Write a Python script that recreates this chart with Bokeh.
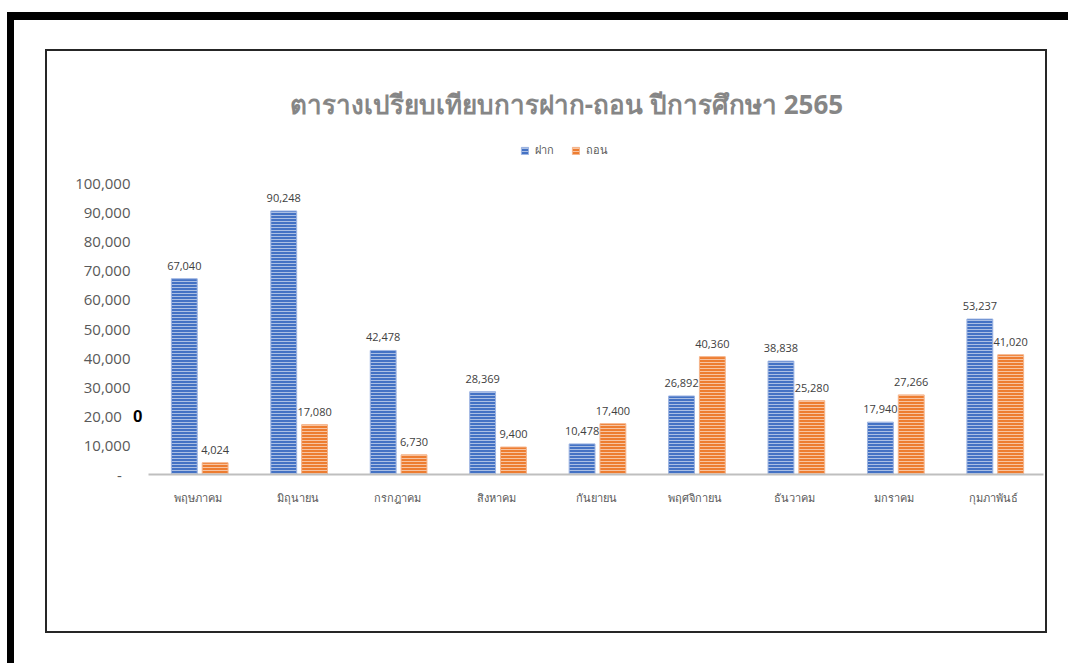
from bokeh.plotting import figure
from bokeh.models import (ColumnDataSource, FactorRange, Range1d, FixedTicker, LabelSet, Label,
                          Legend, LegendItem, LinearAxis)
from bokeh.transform import dodge
from bokeh.core.properties import value
from bokeh.embed import file_html
from bokeh.resources import INLINE

# ---------------- data ----------------
title_text = "ตารางเปรียบเทียบการฝาก-ถอน ปีการศึกษา 2565"
months = ["พฤษภาคม", "มิถุนายน", "กรกฎาคม", "สิงหาคม", "กันยายน",
          "พฤศจิกายน", "ธันวาคม", "มกราคม", "กุมภาพันธ์"]
series_names = ["ฝาก", "ถอน"]
deposits = [67040, 90248, 42478, 28369, 10478, 26892, 38838, 17940, 53237]
withdrawals = [4024, 17080, 6730, 9400, 17400, 40360, 25280, 27266, 41020]
y_ticks = [0, 10000, 20000, 30000, 40000, 50000, 60000, 70000, 80000, 90000, 100000]
y_tick_labels = ["-\u2007", "10,000", "20,00\u2007", "30,000", "40,000", "50,000",
                 "60,000", "70,000", "80,000", "90,000", "100,000"]
stray_tick = [20000]
stray_label = ["0"]

BLUE = "#4472C4"
ORANGE = "#ED7D31"
THAI_FONT = "Noto Sans"
NUM_FONT = "Open Sans"

src = ColumnDataSource(dict(
    month=months,
    dep=deposits,
    wd=withdrawals,
    dep_label=[f"{v:,}" for v in deposits],
    wd_label=[f"{v:,}" for v in withdrawals],
))

W, H = 1068, 663
# value axis: 0 at y=474px, 100,000 at y=182px; the frame extends up to the chart-area
# border (y=51px) so that the title and legend can live inside it without clipping
Y_TOP = 100000 * (474 - 51) / (474 - 182)
p = figure(x_range=FactorRange(*months), y_range=Range1d(0, Y_TOP),
           width=W, height=H, output_backend="svg", toolbar_location=None,
           min_border_left=148, min_border_right=25, min_border_top=51, min_border_bottom=189)
p.title.visible = False
p.outline_line_color = None
p.xgrid.grid_line_color = None
p.ygrid.grid_line_color = None
p.background_fill_color = "white"
p.border_fill_color = None

# page decoration (thick black edge + thin chart-area frame) painted behind the canvas
frame_css = ", ".join([
    "linear-gradient(#000,#000) 7px 12px / 1061px 8px no-repeat",
    "linear-gradient(#000,#000) 7px 12px / 7px 651px no-repeat",
    "linear-gradient(#262626,#262626) 45px 49px / 1002px 2px no-repeat",
    "linear-gradient(#262626,#262626) 45px 631px / 1002px 2px no-repeat",
    "linear-gradient(#262626,#262626) 45px 49px / 2px 584px no-repeat",
    "linear-gradient(#262626,#262626) 1045px 49px / 2px 584px no-repeat",
    "#ffffff",
])
p.styles = {"background": frame_css}

common = dict(source=src, hatch_pattern="horizontal_line", hatch_color="white",
              hatch_alpha=0.55, hatch_scale=3, hatch_weight=1, line_width=1)
b1 = p.vbar(x=dodge("month", -0.14, range=p.x_range), top="dep", width=0.26,
            fill_color=BLUE, line_color="#9db4e2", **common)
b2 = p.vbar(x=dodge("month", 0.17, range=p.x_range), top="wd", width=0.26,
            fill_color=ORANGE, line_color="#f5b48a", **common)

lab_style = dict(text_align="center", text_baseline="bottom", y_offset=9,
                 text_font_size="11px", text_color="#404040", text_font=value(NUM_FONT))
p.add_layout(LabelSet(x=dodge("month", -0.14, range=p.x_range), y="dep", text="dep_label",
                      source=src, **lab_style))
p.add_layout(LabelSet(x=dodge("month", 0.17, range=p.x_range), y="wd", text="wd_label",
                      source=src, **lab_style))

# axes
p.xaxis.axis_line_color = "#bfbfbf"
p.xaxis.axis_line_width = 2
p.xaxis.major_tick_line_color = None
p.xaxis.minor_tick_line_color = None
p.xaxis.major_label_text_font = THAI_FONT
p.xaxis.major_label_text_font_size = "11px"
p.xaxis.major_label_text_color = "#595959"
p.xaxis.major_label_standoff = 9

yaxis = p.yaxis[0]
yaxis.ticker = FixedTicker(ticks=y_ticks)
yaxis.major_label_overrides = {t: l for t, l in zip(y_ticks, y_tick_labels)}
yaxis.axis_line_color = None
yaxis.major_tick_line_color = None
yaxis.minor_tick_line_color = None
yaxis.major_tick_out = 0
yaxis.minor_tick_out = 0
yaxis.major_label_text_font = NUM_FONT
yaxis.major_label_text_font_size = "15px"
yaxis.major_label_text_color = "#595959"
yaxis.major_label_standoff = 0

# the stray bold "0" that sits right of the 20,000 label (closest to the frame)
stray_axis = LinearAxis(ticker=FixedTicker(ticks=stray_tick),
                        major_label_overrides={t: l for t, l in zip(stray_tick, stray_label)},
                        axis_line_color=None, major_tick_line_color=None,
                        minor_tick_line_color=None, major_tick_out=0, minor_tick_out=0,
                        major_label_standoff=6,
                        major_label_text_font="Liberation Sans",
                        major_label_text_font_style="bold",
                        major_label_text_font_size="17px",
                        major_label_text_color="black")
p.left = [stray_axis, yaxis]

# legend
legend = Legend(items=[LegendItem(label=series_names[0], renderers=[b1]),
                       LegendItem(label=series_names[1], renderers=[b2])],
                orientation="horizontal", location=(372, 315),
                border_line_color=None, background_fill_alpha=0,
                padding=0, margin=0, spacing=16, label_standoff=6,
                glyph_width=9, glyph_height=9, label_height=12,
                label_text_font=THAI_FONT, label_text_font_size="11px",
                label_text_color="#595959")
p.add_layout(legend, "center")

# title
p.add_layout(Label(x=566, y=103, x_units="canvas", y_units="canvas", text=title_text,
                   text_align="center", text_baseline="middle", text_font=THAI_FONT,
                   text_font_size="26px", text_font_style="bold", text_color="#868686"))

open("out.html", "w").write(file_html(p, INLINE))
